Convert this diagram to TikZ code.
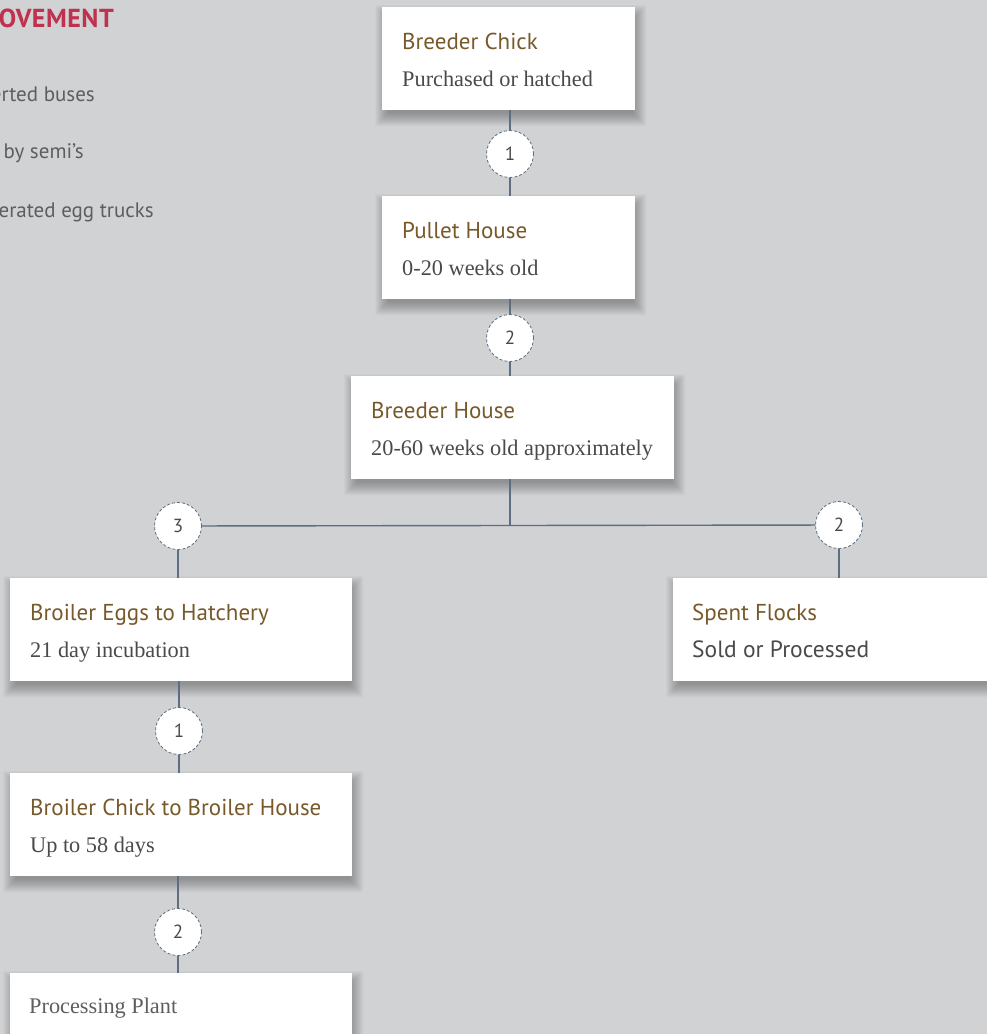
\documentclass[tikz,border=0pt]{standalone}
\usepackage{fontspec}
\setmainfont{Liberation Serif}
\newfontfamily\headsans{PT Sans}
\newfontfamily\headsanswide[LetterSpace=2]{PT Sans}
\usetikzlibrary{calc}
\definecolor{bgray}{HTML}{D1D2D4}
\definecolor{brown}{HTML}{77592A}
\definecolor{bodytxt}{HTML}{4A4A4A}
\definecolor{linkcol}{HTML}{5B6E82}
\definecolor{alertred}{HTML}{C0314F}
\definecolor{legendgray}{HTML}{5E5E62}
\tikzset{
  cardarea/.style={draw=none, fill=none, inner sep=0pt, minimum height=103pt, anchor=north west},
  cardtitle/.style={anchor=base west, inner sep=0pt, text=brown, font=\headsans\fontsize{23}{26}\selectfont},
  cardsub/.style={anchor=base west, inner sep=0pt, text=bodytxt, font=\fontsize{22.3}{26}\selectfont},
  cardsubsans/.style={anchor=base west, inner sep=0pt, text=bodytxt, font=\headsans\fontsize{23.5}{26}\selectfont},
  stepnum/.style={circle, minimum size=47pt, inner sep=0pt, fill=white, draw=linkcol,
    line width=0.8pt, dash pattern=on 3pt off 2pt, text=bodytxt,
    font=\headsans\fontsize{19}{22}\selectfont},
  link/.style={draw=linkcol, line width=1.4pt},
  legend/.style={anchor=base east, inner sep=0pt, text=legendgray, font=\headsans\fontsize{21}{24}\selectfont},
}
% soft drop shadow under a card, built from faint stacked rectangles
\newcommand\cardshadow[1]{%
  \foreach \i in {-4,...,9}{%
    \fill[black, opacity=0.022, rounded corners=2pt] ($(#1.north west)+(2-\i,7-\i)$) rectangle ($(#1.south east)+(2+\i,7+\i)$);
  }}
\newcommand\cardface[1]{\fill[white] (#1.north west) rectangle (#1.south east);}
\begin{document}
\begin{tikzpicture}[x=1pt,y=-1pt]
\useasboundingbox (0,0) rectangle (987,1034);
\clip (0,0) rectangle (987,1034);
\fill[bgray] (0,0) rectangle (987,1034);

% legend (left side)
\node[anchor=base east, inner sep=0pt, text=alertred, font=\headsanswide\bfseries\fontsize{26}{30}\selectfont] (legtitle) at (114,27) {MOVEMENT};
\node[legend] (leg1) at (95,101) {Converted buses};
\node[legend] (leg2) at (84,158) {Hauled by semi’s};
\node[legend] (leg3) at (154,217) {Refrigerated egg trucks};

% card areas
\node[cardarea, minimum width=253pt] (bc) at (382,7) {};
\node[cardarea, minimum width=253pt] (ph) at (382,196) {};
\node[cardarea, minimum width=323pt] (bh) at (351,376) {};
\node[cardarea, minimum width=342pt] (be) at (10,578) {};
\node[cardarea, minimum width=340pt] (sf) at (673,578) {};
\node[cardarea, minimum width=342pt] (bk) at (10,773) {};
\node[cardarea, minimum width=342pt] (pp) at (10,973) {};

\foreach \c in {bc,ph,bh,be,sf,bk,pp}{\cardshadow{\c}}
\foreach \c in {bc,ph,bh,be,sf,bk,pp}{\cardface{\c}}

% card texts
\node[cardtitle] (bct) at ($(bc.north west)+(20,42)$) {Breeder Chick};
\node[cardsub]   (bcs) at ($(bc.north west)+(20,79)$) {Purchased or hatched};
\node[cardtitle] (pht) at ($(ph.north west)+(20,42)$) {Pullet House};
\node[cardsub]   (phs) at ($(ph.north west)+(20,79)$) {0-20 weeks old};
\node[cardtitle] (bht) at ($(bh.north west)+(20,42)$) {Breeder House};
\node[cardsub]   (bhs) at ($(bh.north west)+(20,79)$) {20-60 weeks old approximately};
\node[cardtitle] (bet) at ($(be.north west)+(20,42)$) {Broiler Eggs to Hatchery};
\node[cardsub]   (bes) at ($(be.north west)+(20,79)$) {21 day incubation};
\node[cardtitle] (sft) at ($(sf.north west)+(19,42)$) {Spent Flocks};
\node[cardsubsans] (sfs) at ($(sf.north west)+(19,79)$) {Sold or Processed};
\node[cardtitle] (bkt) at ($(bk.north west)+(20,42)$) {Broiler Chick to Broiler House};
\node[cardsub]   (bks) at ($(bk.north west)+(20,79)$) {Up to 58 days};
\node[cardsub, text=legendgray] (ppt) at ($(pp.north west)+(19,40)$) {Processing Plant};

% step markers
\node[stepnum] (s1) at (510,154) {1};
\node[stepnum] (s2) at (510,338) {2};
\node[stepnum] (s3) at (178,526) {3};
\node[stepnum] (s4) at (839,525) {2};
\node[stepnum] (s5) at (179,731) {1};
\node[stepnum] (s6) at (178,932) {2};
\coordinate (fork) at (510,526);

% connectors
\path[link] (s1 |- bc.south) -- (s1);
\path[link] (s1) -- (s1 |- ph.north);
\path[link] (s2 |- ph.south) -- (s2);
\path[link] (s2) -- (s2 |- bh.north);
\path[link] (fork |- bh.south) -- (fork);
\path[link] (s3) -- (s4);
\path[link] (s3) -- (s3 |- be.north);
\path[link] (s4) -- (s4 |- sf.north);
\path[link] (s5 |- be.south) -- (s5);
\path[link] (s5) -- (s5 |- bk.north);
\path[link] (s6 |- bk.south) -- (s6);
\path[link] (s6) -- (s6 |- pp.north);
\end{tikzpicture}
\end{document}
